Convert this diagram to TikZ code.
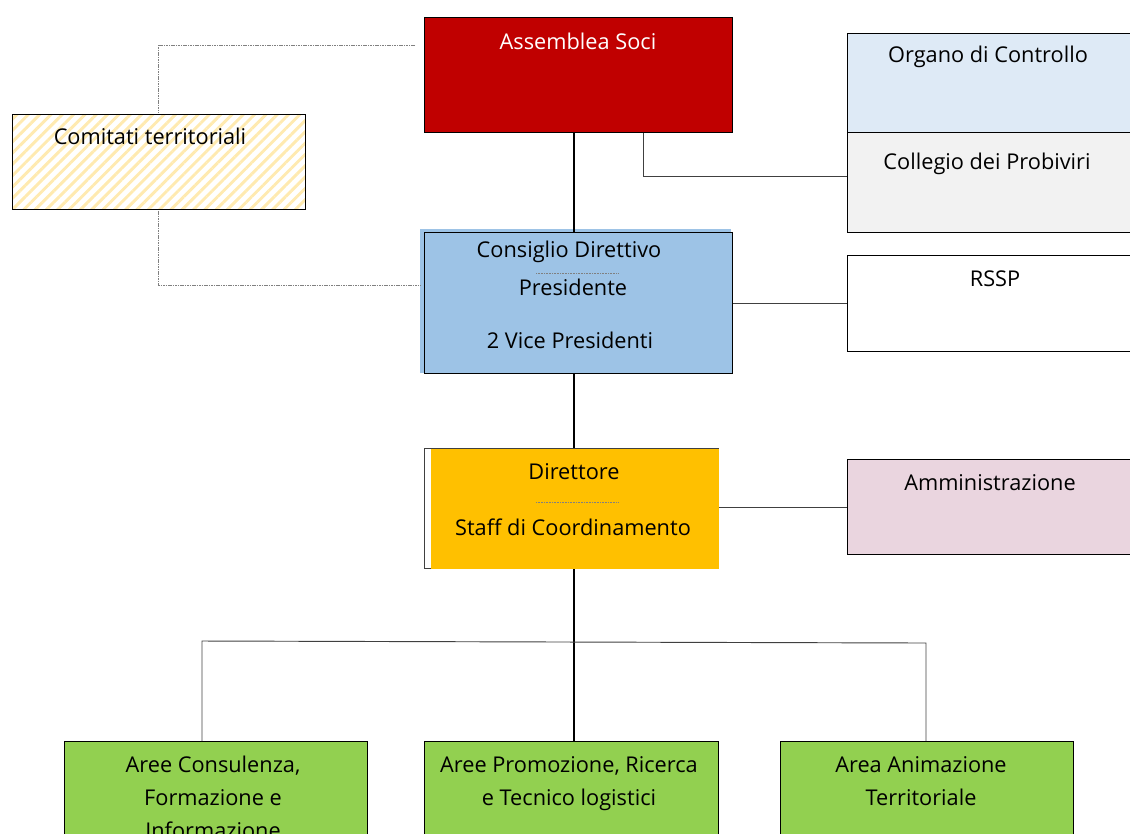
\documentclass[tikz,border=0pt]{standalone}
\usepackage{fontspec}
\setmainfont{Open Sans}
\usetikzlibrary{patterns.meta}
\definecolor{cRed}{HTML}{C00000}
\definecolor{cBlue}{HTML}{9DC3E6}
\definecolor{cLightBlue}{HTML}{DEEAF6}
\definecolor{cGray}{HTML}{F2F2F2}
\definecolor{cGold}{HTML}{FFC000}
\definecolor{cPink}{HTML}{EAD5DF}
\definecolor{cGreen}{HTML}{92D050}
\definecolor{cHatch}{HTML}{FFEAB0}
\definecolor{cLine}{HTML}{404040}
\tikzset{
  box/.style={draw=black, line width=0.8pt, anchor=north west, inner sep=0pt},
  lbl/.style={font=\fontsize{16.3}{24.75}\selectfont, align=center, inner sep=0pt, text=black},
  trunk/.style={line width=1.6pt, black},
  conn/.style={line width=0.7pt, cLine},
  dashconn/.style={line width=0.6pt, gray, dash pattern=on 1.2pt off 0.6pt},
  sep/.style={line width=0.4pt, gray, dash pattern=on 0.8pt off 0.4pt}
}
\begin{document}
\begin{tikzpicture}[x=0.75pt, y=-0.75pt]
\clip (0,0) rectangle (1130,833);
\useasboundingbox (0,0) rectangle (1130,833);
% boxes
\node[box, fill=cRed, minimum width=0.75*308pt, minimum height=0.75*115pt] (as) at (424,17) {};
\node[box, pattern={Lines[angle=45,distance=6pt,line width=2.2pt]}, pattern color=cHatch, minimum width=0.75*293pt, minimum height=0.75*95pt] (ct) at (11,113) {};
\node[box, fill=cLightBlue, minimum width=0.75*300pt, minimum height=0.75*99pt] (oc) at (847,33) {};
\node[box, fill=cGray, minimum width=0.75*300pt, minimum height=0.75*100pt] (cp) at (847,132) {};
\node[box, draw=none, fill=cBlue, minimum width=0.75*311pt, minimum height=0.75*144pt] (cdsh) at (419,228) {};
\node[box, fill=cBlue, minimum width=0.75*308pt, minimum height=0.75*141pt] (cd) at (424,232) {};
\node[box, fill=white, minimum width=0.75*300pt, minimum height=0.75*96pt] (rs) at (847,255) {};
\node[box, draw=cLine, fill=white, minimum width=0.75*294pt, minimum height=0.75*120pt] (dir) at (424,448) {};
\fill[cGold] ([xshift=5.25pt,yshift=0.4pt]dir.south west) rectangle ([xshift=-0.4pt,yshift=-0.4pt]dir.north east);
\node[box, fill=cPink, minimum width=0.75*300pt, minimum height=0.75*95pt] (am) at (847,459) {};
\node[box, fill=cGreen, minimum width=0.75*303pt, minimum height=0.75*120pt] (g1) at (64,741) {};
\node[box, fill=cGreen, minimum width=0.75*294pt, minimum height=0.75*120pt] (g2) at (424,741) {};
\node[box, fill=cGreen, minimum width=0.75*293pt, minimum height=0.75*120pt] (g3) at (780,741) {};
% labels
\node[lbl, text=white] at (578,41) {Assemblea Soci};
\node[lbl] at (150,136) {Comitati territoriali};
\node[lbl] at (988,57) {Organo di Controllo};
\node[lbl] at (987,164) {Collegio dei Probiviri};
\node[lbl] at (995,279) {RSSP};
\node[lbl] at (990,483) {Amministrazione};
\node[lbl] at (569,252) {Consiglio Direttivo};
\node[lbl] at (573,287) {Presidente};
\node[lbl] at (570,340) {2 Vice Presidenti};
\node[lbl] at (574,472) {Direttore};
\node[lbl] at (573,527) {Staff di Coordinamento};
\node[lbl, anchor=north] at (213,756) {Aree Consulenza,\\Formazione e\\Informazione};
\node[lbl, anchor=north] at (569,756) {Aree Promozione, Ricerca\\e Tecnico logistici};
\node[lbl, anchor=north] at (921,756) {Area Animazione\\Territoriale};
% separators
\coordinate (s1a) at (536,273); \coordinate (s1b) at (619,273);
\draw[sep] (s1a) -- (s1b);
\coordinate (s2a) at (536,502); \coordinate (s2b) at (619,502);
\draw[sep] (s2a) -- (s2b);
% trunk
\draw[trunk] (as.south -| 574,0) -- (cd.north -| 574,0);
\draw[trunk] (cd.south -| 574,0) -- (dir.north -| 574,0);
\draw[trunk] (dir.south -| 574,0) -- (g2.north -| 574,0);
% connectors
\draw[conn] (as.south -| 643,0) |- (cp.west |- 0,176);
\draw[conn] (cd.east |- 0,303) -- (rs.west |- 0,303);
\draw[conn] (dir.east |- 0,507) -- (am.west |- 0,507);
\coordinate (hl) at (202,641); \coordinate (hr) at (926,643);
\draw[conn] (g1.north -| hl) -- (hl) -- (hr) -- (g3.north -| hr);
% dashed to comitati
\coordinate (d1) at (415,45); \coordinate (d2) at (420,285);
\draw[dashconn] (d1) -| (ct.north -| 158,0);
\draw[dashconn] (ct.south -| 158,0) |- (d2);
\end{tikzpicture}
\end{document}
